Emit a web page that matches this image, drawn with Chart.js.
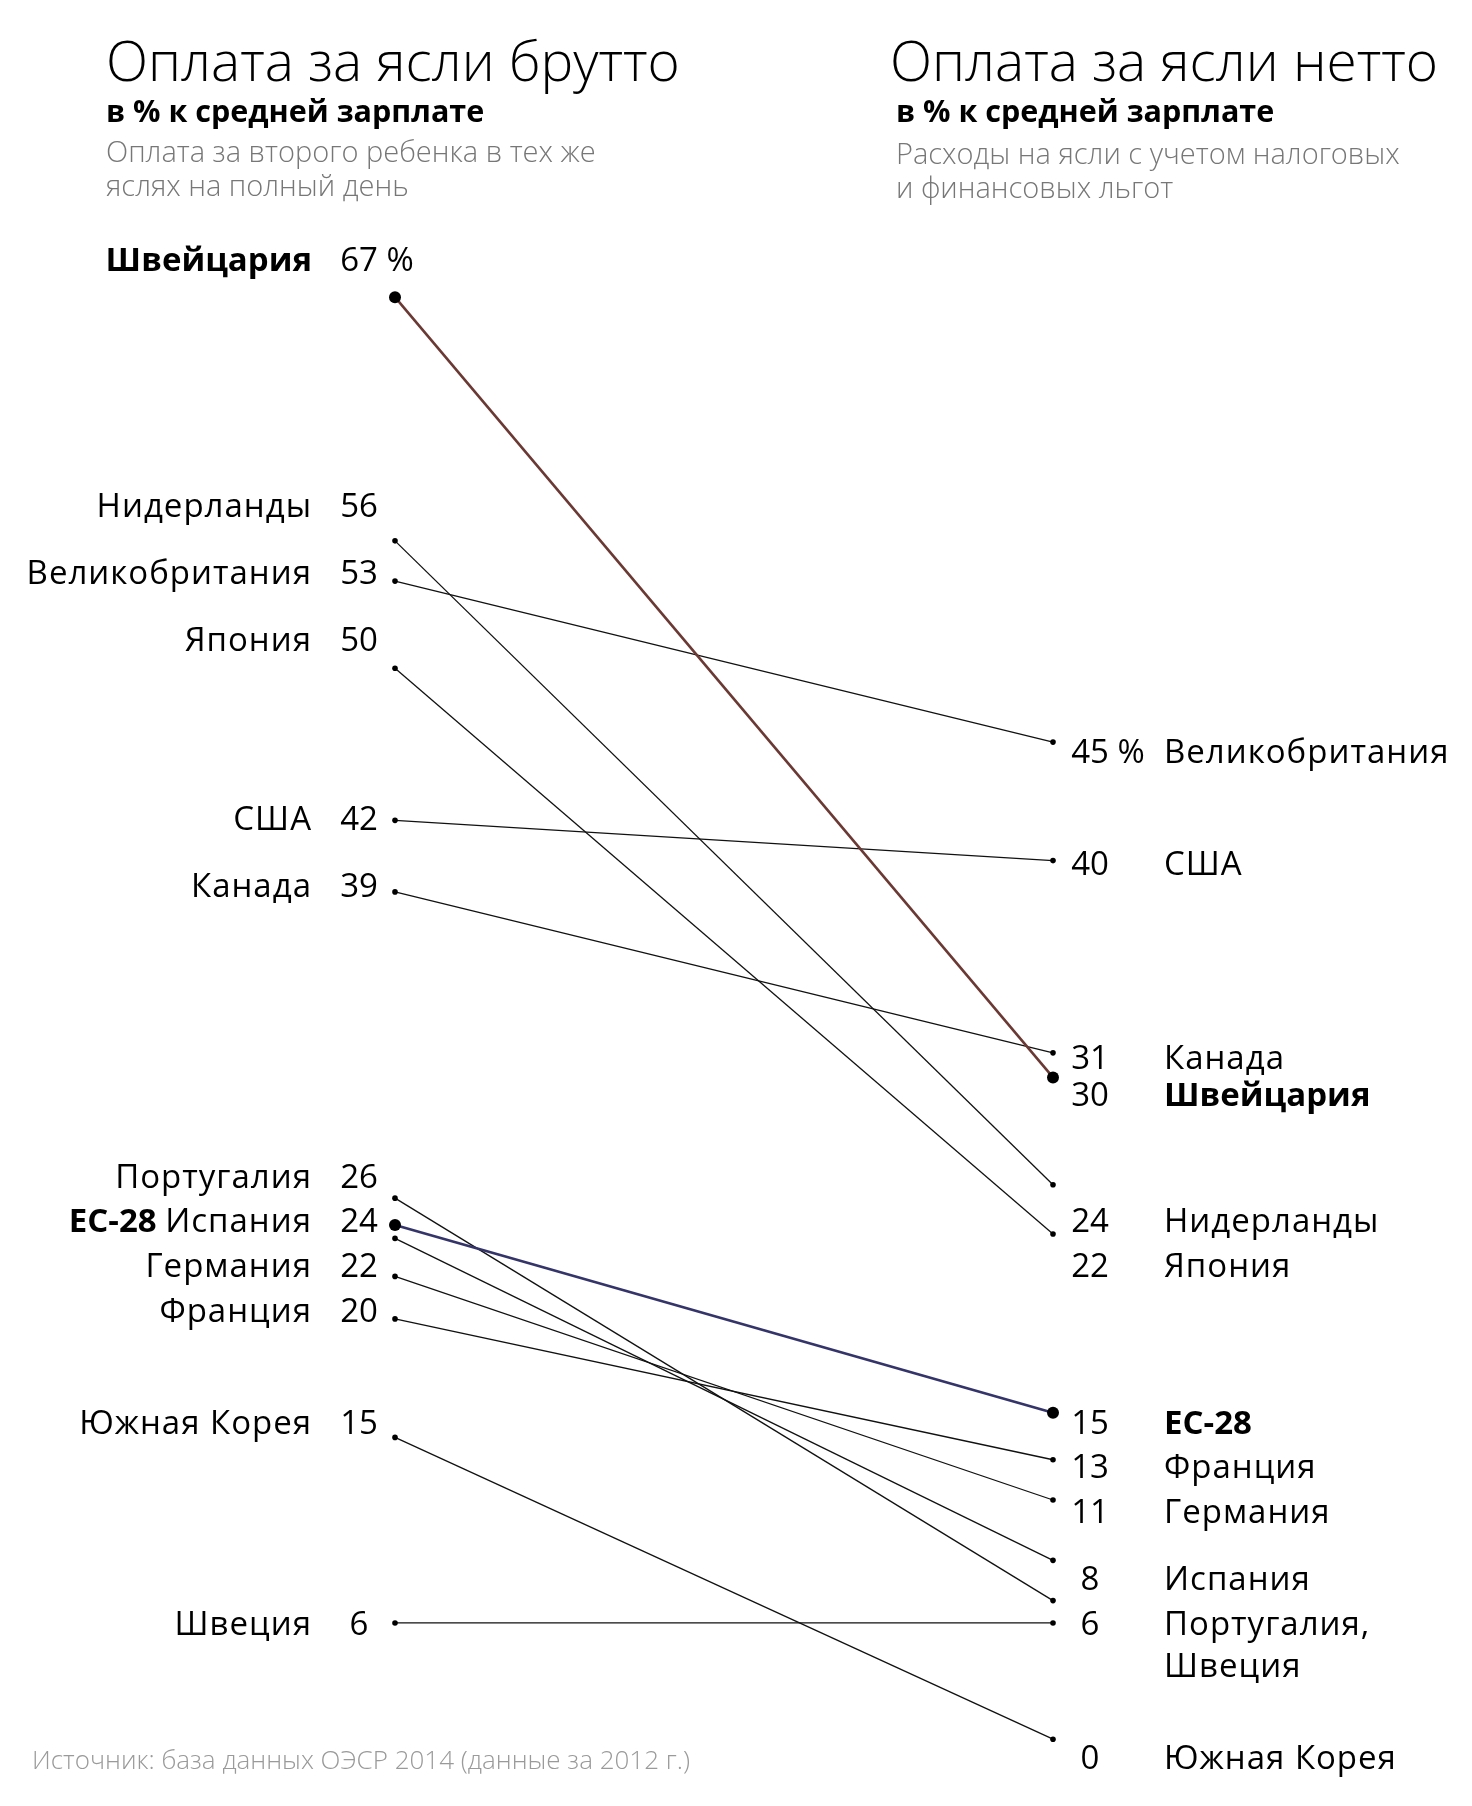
<!DOCTYPE html>
<html lang="ru">
<head>
<meta charset="UTF-8">
<title>Оплата за ясли</title>
<script src="https://cdn.jsdelivr.net/npm/chart.js"></script>
<style>
    body {
        margin: 0;
        background: #fff;
        font-family: "Open Sans", sans-serif;
    }
    .page {
        position: relative;
        width: 1472px;
        height: 1806px;
        overflow: hidden;
    }
    canvas {
        position: absolute;
        left: 0;
        top: 0;
    }
    .txt {
        position: absolute;
        white-space: nowrap;
    }
    .title {
        font-size: 55px;
        font-weight: 300;
        line-height: 55px;
        color: #000;
    }
    .sub {
        font-size: 30.5px;
        font-weight: 700;
        line-height: 30.5px;
        color: #000;
    }
    .note {
        font-size: 29px;
        font-weight: 300;
        line-height: 34px;
        color: #777;
    }
    .source {
        font-size: 26px;
        font-weight: 300;
        line-height: 26px;
        color: #9a9a9a;
    }
</style>
</head>
<body>
<div class="page">
    <canvas id="slope" width="1472" height="1806"></canvas>

    <div class="txt title" style="left:106px; top:32px;">Оплата за ясли брутто</div>
    <div class="txt sub" style="left:106px; top:95px;">в % к средней зарплате</div>
    <div class="txt note" style="left:106px; top:134px;">Оплата за второго ребенка в тех же<br>яслях на полный день</div>

    <div class="txt title" style="left:890px; top:32px;">Оплата за ясли нетто</div>
    <div class="txt sub" style="left:896px; top:95px;">в % к средней зарплате</div>
    <div class="txt note" style="left:896px; top:136px;">Расходы на ясли с учетом налоговых<br>и финансовых льгот</div>

    <div class="txt source" style="left:32px; top:1746px;">Источник: база данных ОЭСР 2014 (данные за 2012 г.)</div>
</div>

<script>
    // countries, in the order of the left column
    const countries = ['Швейцария', 'Нидерланды', 'Великобритания', 'Япония', 'США', 'Канада',
        'Португалия', 'ЕС-28', 'Испания', 'Германия', 'Франция', 'Южная Корея', 'Швеция'];

    // dot positions (gross = left, net = right)
    const grossValues = [65.3, 54.4, 52.6, 48.7, 41.9, 38.7, 25.0, 23.8, 23.2, 21.5, 19.6, 14.3, 6.0];
    const netValues = [30.4, 25.6, 45.4, 23.4, 40.1, 31.5, 7.0, 15.4, 8.8, 11.5, 13.3, 0.8, 6.0];

    // printed labels, left column
    const leftTicks = [67, 56, 53, 50, 42, 39, 26, 24, 22, 20, 15, 6];
    const leftNames = ['Швейцария', 'Нидерланды', 'Великобритания', 'Япония', 'США', 'Канада',
        'Португалия', 'ЕС-28|Испания', 'Германия', 'Франция', 'Южная Корея', 'Швеция'];

    // printed labels, right column
    const rightTicks = [45, 40, 31, 30, 24, 22, 15, 13, 11, 8, 6, 0];
    const rightNames = ['Великобритания', 'США', 'Канада', 'Швейцария', 'Нидерланды', 'Япония',
        'ЕС-28', 'Франция', 'Германия', 'Испания', 'Португалия,\nШвеция', 'Южная Корея'];

    const boldNames = ['Швейцария', 'ЕС-28'];
    const lineColors = { 'Швейцария': '#6b3933', 'ЕС-28': '#34346a' };

    // small nudges of right labels that were moved apart in the original
    const rightNudge = { 'Канада': -7, 'Швейцария': 8 };

    const FONT = '"Open Sans", sans-serif';
    const SIZE = 33;

    function setFont(ctx, bold, spaced) {
        ctx.font = (bold ? '700 ' : '400 ') + SIZE + 'px ' + FONT;
        ctx.letterSpacing = (spaced && !bold) ? '1px' : '0px';
    }

    // draws the country names and numbers beside each column
    const labelPlugin = {
        id: 'slopeLabels',
        afterDraw(chart) {
            const ctx = chart.ctx;
            const y = chart.scales.y;
            ctx.save();
            ctx.fillStyle = '#000';
            ctx.textBaseline = 'alphabetic';
            const lift = SIZE * 0.357;

            // left side
            leftTicks.forEach((v, i) => {
                const base = y.getPixelForValue(v) + lift;
                setFont(ctx, false, false);
                ctx.textAlign = 'center';
                ctx.fillText(String(v), 359, base);
                if (i === 0) {
                    const w = ctx.measureText(String(v)).width;
                    ctx.textAlign = 'left';
                    ctx.fillText(' %', 359 + w / 2, base);
                }
                // name, possibly in two styles
                const parts = leftNames[i].split('|');
                let right = 312;
                ctx.textAlign = 'right';
                for (let p = parts.length - 1; p >= 0; p--) {
                    const bold = boldNames.includes(parts[p]);
                    setFont(ctx, bold, true);
                    ctx.fillText(parts[p], right, base);
                    right -= ctx.measureText(parts[p]).width;
                    setFont(ctx, false, false);
                    right -= ctx.measureText(' ').width;
                }
            });

            // right side
            rightTicks.forEach((v, i) => {
                const name = rightNames[i];
                const base = y.getPixelForValue(v) + lift + (rightNudge[name] || 0);
                setFont(ctx, false, false);
                ctx.textAlign = 'center';
                ctx.fillText(String(v), 1090, base);
                if (i === 0) {
                    const w = ctx.measureText(String(v)).width;
                    ctx.textAlign = 'left';
                    ctx.fillText(' %', 1090 + w / 2, base);
                }
                setFont(ctx, boldNames.includes(name), true);
                ctx.textAlign = 'left';
                name.split('\n').forEach((line, k) => {
                    ctx.fillText(line, 1164, base + k * 42.6);
                });
            });
            ctx.restore();
        }
    };

    const datasets = countries.map((c, i) => {
        const main = boldNames.includes(c);
        return {
            label: c,
            data: [{ x: 0, y: grossValues[i] }, { x: 1, y: netValues[i] }],
            borderColor: main ? lineColors[c] : '#111',
            borderWidth: main ? 2.6 : 1.3,
            pointRadius: main ? 6 : 2.8,
            pointBackgroundColor: '#000',
            pointBorderWidth: 0,
            pointHoverRadius: 0,
            tension: 0,
            clip: false,
            order: main ? 0 : 1
        };
    });

    new Chart(document.getElementById('slope'), {
        type: 'line',
        data: { datasets: datasets },
        options: {
            responsive: false,
            animation: false,
            events: [],
            layout: {
                autoPadding: false,
                padding: { left: 395, right: 419, top: 192.1, bottom: 48.9 }
            },
            plugins: {
                legend: { display: false },
                tooltip: { enabled: false }
            },
            scales: {
                x: { type: 'linear', min: 0, max: 1, display: false },
                y: { type: 'linear', min: 0, max: 70, display: false }
            }
        },
        plugins: [labelPlugin]
    });
</script>
</body>
</html>
